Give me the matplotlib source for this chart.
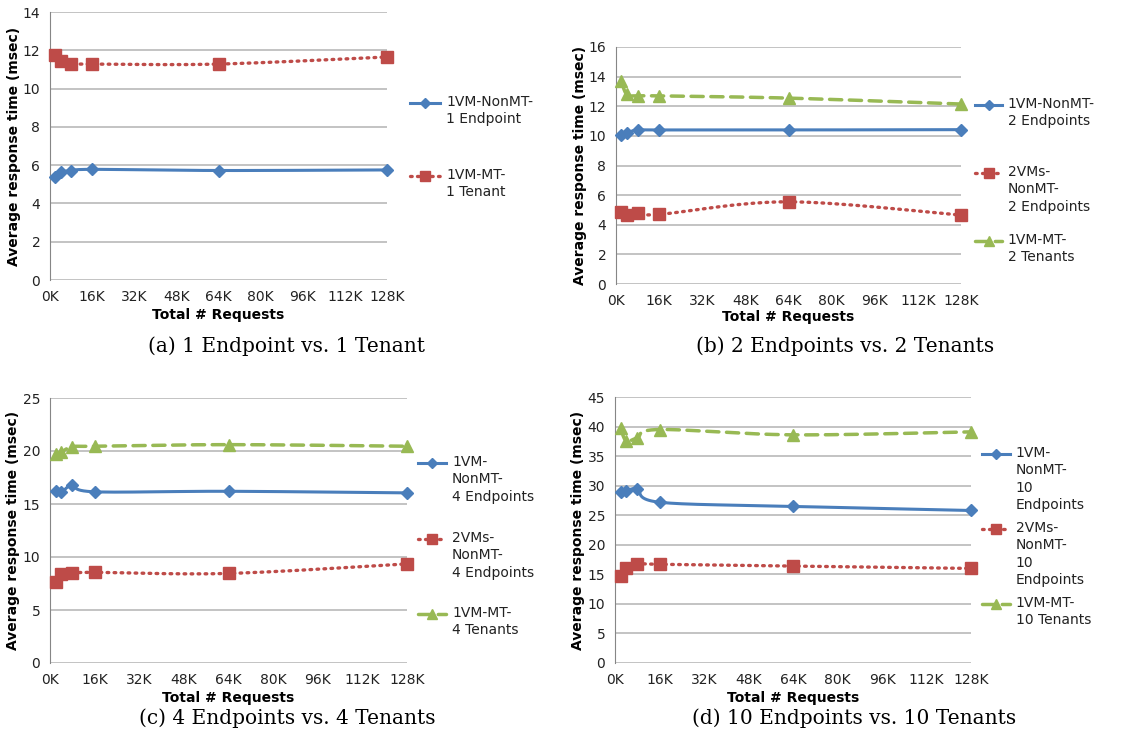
import numpy as np
import matplotlib
matplotlib.use("Agg")
import matplotlib.pyplot as plt

plt.rcParams['font.family'] = ['DejaVu Sans']

requests_k = [2, 4, 8, 16, 64, 128]
x_ticks_k = [0, 16, 32, 48, 64, 80, 96, 112, 128]
x_tick_labels = [f"{v}K" for v in x_ticks_k]

# (a)
a_nonmt = [5.4, 5.65, 5.7, 5.78, 5.72, 5.75]
a_mt = [11.75, 11.45, 11.3, 11.28, 11.28, 11.65]
# (b)
b_nonmt = [10.05, 10.2, 10.4, 10.4, 10.4, 10.42]
b_2vm = [4.85, 4.65, 4.8, 4.7, 5.55, 4.65]
b_mt = [13.7, 12.8, 12.7, 12.7, 12.55, 12.15]
# (c)
c_nonmt = [16.25, 16.1, 16.75, 16.15, 16.2, 16.05]
c_2vm = [7.6, 8.35, 8.45, 8.55, 8.45, 9.35]
c_mt = [19.7, 19.9, 20.4, 20.45, 20.6, 20.45]
# (d)
d_nonmt = [29.0, 29.1, 29.4, 27.2, 26.5, 25.8]
d_2vm = [14.8, 16.1, 16.8, 16.7, 16.4, 16.0]
d_mt = [39.8, 37.6, 38.1, 39.5, 38.6, 39.1]

BLUE = '#4A7EBB'
RED = '#BE4B48'
GREEN = '#98B954'

styles = {
    'nonmt': dict(color=BLUE, ls='-', lw=2.2, marker='D', ms=6.5),
    '2vm': dict(color=RED, ls=(0, (0.5, 1.6)), lw=2.4, marker='s', ms=8.5),
    'mt': dict(color=GREEN, ls=(0, (3.5, 2.2)), lw=2.5, marker='^', ms=8.5),
}


def smooth(xs, ys, xspan, yspan, n=40):
    # Catmull-Rom (Excel-like smoothed line) in normalized screen space
    px = np.array(xs, float) / xspan
    py = np.array(ys, float) / yspan
    P = np.column_stack([px, py])
    P = np.vstack([P[0], P, P[-1]])
    out = []
    for i in range(1, len(P) - 2):
        p0, p1, p2, p3 = P[i - 1], P[i], P[i + 1], P[i + 2]
        c1 = p1 + (p2 - p0) / 6.0
        c2 = p2 - (p3 - p1) / 6.0
        t = np.linspace(0, 1, n)[:, None]
        seg = ((1 - t) ** 3) * p1 + 3 * ((1 - t) ** 2) * t * c1 + 3 * (1 - t) * t ** 2 * c2 + t ** 3 * p2
        out.append(seg if i == 1 else seg[1:])
    out = np.vstack(out)
    return out[:, 0] * xspan, out[:, 1] * yspan


fig = plt.figure(figsize=(11.27, 7.42), dpi=100)

FS = 10

panels = [
    dict(rect=[50 / 1127, 1 - 280 / 742, 337 / 1127, 268 / 742], ymax=14, ystep=2,
         series=[('nonmt', a_nonmt, "1VM-NonMT-\n1 Endpoint"),
                 ('2vm', a_mt, "1VM-MT-\n1 Tenant")],
         leg_y=[0.66, 0.388], leg_x=(1.068, 1.157, 1.175),
         ylab_x=-36 / 337, xlab_y=-35 / 268,
         caption="(a) 1 Endpoint vs. 1 Tenant", cap=(287, 346)),
    dict(rect=[616 / 1127, 1 - 284 / 742, 345 / 1127, 237 / 742], ymax=16, ystep=2,
         series=[('nonmt', b_nonmt, "1VM-NonMT-\n2 Endpoints"),
                 ('2vm', b_2vm, "2VMs-\nNonMT-\n2 Endpoints"),
                 ('mt', b_mt, "1VM-MT-\n2 Tenants")],
         leg_y=[0.755, 0.468, 0.181], leg_x=(1.04, 1.12, 1.136),
         ylab_x=-36 / 345, xlab_y=-32.5 / 237,
         caption="(b) 2 Endpoints vs. 2 Tenants", cap=(845, 346)),
    dict(rect=[50 / 1127, 79 / 742, 357 / 1127, 265 / 742], ymax=25, ystep=5,
         series=[('nonmt', c_nonmt, "1VM-\nNonMT-\n4 Endpoints"),
                 ('2vm', c_2vm, "2VMs-\nNonMT-\n4 Endpoints"),
                 ('mt', c_mt, "1VM-MT-\n4 Tenants")],
         leg_y=[0.755, 0.468, 0.185], leg_x=(1.03, 1.11, 1.126),
         ylab_x=-37 / 357, xlab_y=-35 / 265,
         caption="(c) 4 Endpoints vs. 4 Tenants", cap=(287, 718)),
    dict(rect=[615 / 1127, 79 / 742, 356 / 1127, 266 / 742], ymax=45, ystep=5,
         series=[('nonmt', d_nonmt, "1VM-\nNonMT-\n10\nEndpoints"),
                 ('2vm', d_2vm, "2VMs-\nNonMT-\n10\nEndpoints"),
                 ('mt', d_mt, "1VM-MT-\n10 Tenants")],
         leg_y=[0.786, 0.504, 0.222], leg_x=(1.03, 1.11, 1.126),
         ylab_x=-37 / 356, xlab_y=-35 / 266,
         caption="(d) 10 Endpoints vs. 10 Tenants", cap=(854, 718)),
]

for p in panels:
    ax = fig.add_axes(p['rect'])
    ax.set_xlim(0, 128)
    ax.set_ylim(0, p['ymax'])
    ax.set_xticks(x_ticks_k)
    ax.set_xticklabels(x_tick_labels)
    ax.set_yticks(np.arange(0, p['ymax'] + 0.1, p['ystep']))
    ax.yaxis.grid(True, color='#B3B3B3', lw=1.1)
    ax.set_axisbelow(True)
    for s in ['top', 'right', 'bottom']:
        ax.spines[s].set_visible(False)
    ax.spines['left'].set_color('#868686')
    ax.tick_params(length=0, labelsize=FS, colors='#222222')
    ax.tick_params(axis='x', pad=7)
    ax.tick_params(axis='y', pad=7)
    yl = ax.set_ylabel("Average response time (msec)", fontsize=FS, fontweight='bold')
    yl.set_va('center')
    ax.yaxis.set_label_coords(p['ylab_x'], 0.5)
    xl = ax.set_xlabel("Total # Requests", fontsize=FS, fontweight='bold')
    xl.set_va('center')
    ax.xaxis.set_label_coords(0.5, p['xlab_y'])

    lh = 8 / (p['rect'][3] * 742)
    for (key, vals, label), ly in zip(p['series'], p['leg_y']):
        st = styles[key]
        sx, sy = smooth(requests_k, vals, 128, p['ymax'])
        ax.plot(sx, sy, color=st['color'], ls=st['ls'], lw=st['lw'],
                solid_capstyle='round', dash_capstyle='round', clip_on=False, zorder=3)
        ax.plot(requests_k, vals, ls='none', marker=st['marker'], ms=st['ms'],
                color=st['color'], mec=st['color'], clip_on=False, zorder=4)
        # legend entry
        x0, x1, xt = p['leg_x']
        ax.plot([x0, x1], [ly, ly], transform=ax.transAxes, color=st['color'],
                ls=st['ls'], lw=st['lw'], clip_on=False, dash_capstyle='round')
        ax.plot([(x0 + x1) / 2], [ly], transform=ax.transAxes, ls='none',
                marker=st['marker'], ms=st['ms'] - 1, color=st['color'], clip_on=False)
        ax.text(xt, ly + lh, label, transform=ax.transAxes, fontsize=FS, color='#222222',
                va='top', ha='left', linespacing=1.3)

    fig.text(p['cap'][0] / 1127, 1 - p['cap'][1] / 742, p['caption'],
             family='DejaVu Serif', fontsize=14.5, ha='center', va='center')

fig.savefig("out.png", dpi=100)
